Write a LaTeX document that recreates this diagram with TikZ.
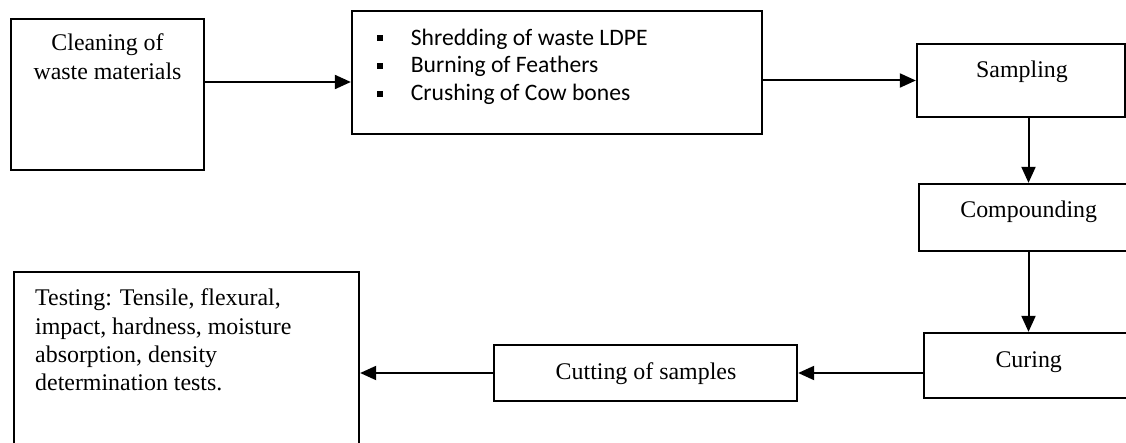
\documentclass[tikz,border=0pt]{standalone}
\usepackage{fontspec}
\setmainfont{Liberation Serif}
\newfontfamily\calibrifont{Carlito}
\usepackage{tikz}
\usetikzlibrary{arrows.meta,positioning,calc}
\newcommand{\blt}{\makebox[33.7pt][l]{\rule[4pt]{6pt}{6pt}}}

\begin{document}
\begin{tikzpicture}[x=1pt, y=-1pt,
    box/.style={rectangle, draw, line width=2.3pt},
    txt/.style={inner sep=0pt, font=\fontsize{23.9}{28.3}\selectfont},
    sans/.style={inner sep=0pt, font=\calibrifont\fontsize{23.6}{27.7}\selectfont},
    arr/.style={line width=2pt, -{Triangle[length=16pt,width=14pt]}}
]
\useasboundingbox (0,0) rectangle (1126,443);
\clip (0,0) rectangle (1126,443);

% Boxes
\node[box, minimum width=193, minimum height=151] (clean) at (107.5,94.5) {};
\node[box, minimum width=410, minimum height=123] (proc) at (557,72.5) {};
\node[box, minimum width=208, minimum height=73] (samp) at (1021,80.5) {};
\node[box, minimum width=219, minimum height=67] (comp) at (1028.5,217.5) {};
\node[box, minimum width=209, minimum height=65] (cur) at (1028.5,365.5) {};
\node[box, minimum width=303, minimum height=56] (cut) at (645.5,373) {};
\node[box, minimum width=345, minimum height=208] (test) at (186.5,376) {};

% Texts
\node[txt, align=center, anchor=north] (cleantxt) at (107.5,33.8) {Cleaning of\\waste materials};
\node[sans, align=left, anchor=north west] (proctxt) at (377,28.6)
    {\blt Shredding of waste LDPE\\\blt Burning of Feathers\\\blt Crushing of Cow bones};
\node[txt, anchor=base] (samptxt) at (1022,78) {Sampling};
\node[txt, anchor=base] (comptxt) at (1028.7,218) {Compounding};
\node[txt, anchor=base] (curtxt) at (1028.7,367) {Curing};
\node[txt, anchor=base] (cuttxt) at (646,379) {Cutting of samples};
\node[txt, align=left, anchor=north west] (testtxt) at (35,288.8)
    {Testing: Tensile, flexural,\\impact, hardness, moisture\\absorption, density\\determination tests.};

% Arrows
\draw[arr] ([yshift=12.5pt]clean.east) -- ([yshift=12.5pt]clean.east -| proc.west);
\draw[arr] (proc.east |- samp.west) -- (samp.west);
\draw[arr] (samp.south -| comp.north) -- (comp.north);
\draw[arr] (comp.south) -- (cur.north);
\draw[arr] (cur.west |- cut.east) -- (cut.east);
\draw[arr] (cut.west) -- (cut.west -| test.east);
\end{tikzpicture}
\end{document}
